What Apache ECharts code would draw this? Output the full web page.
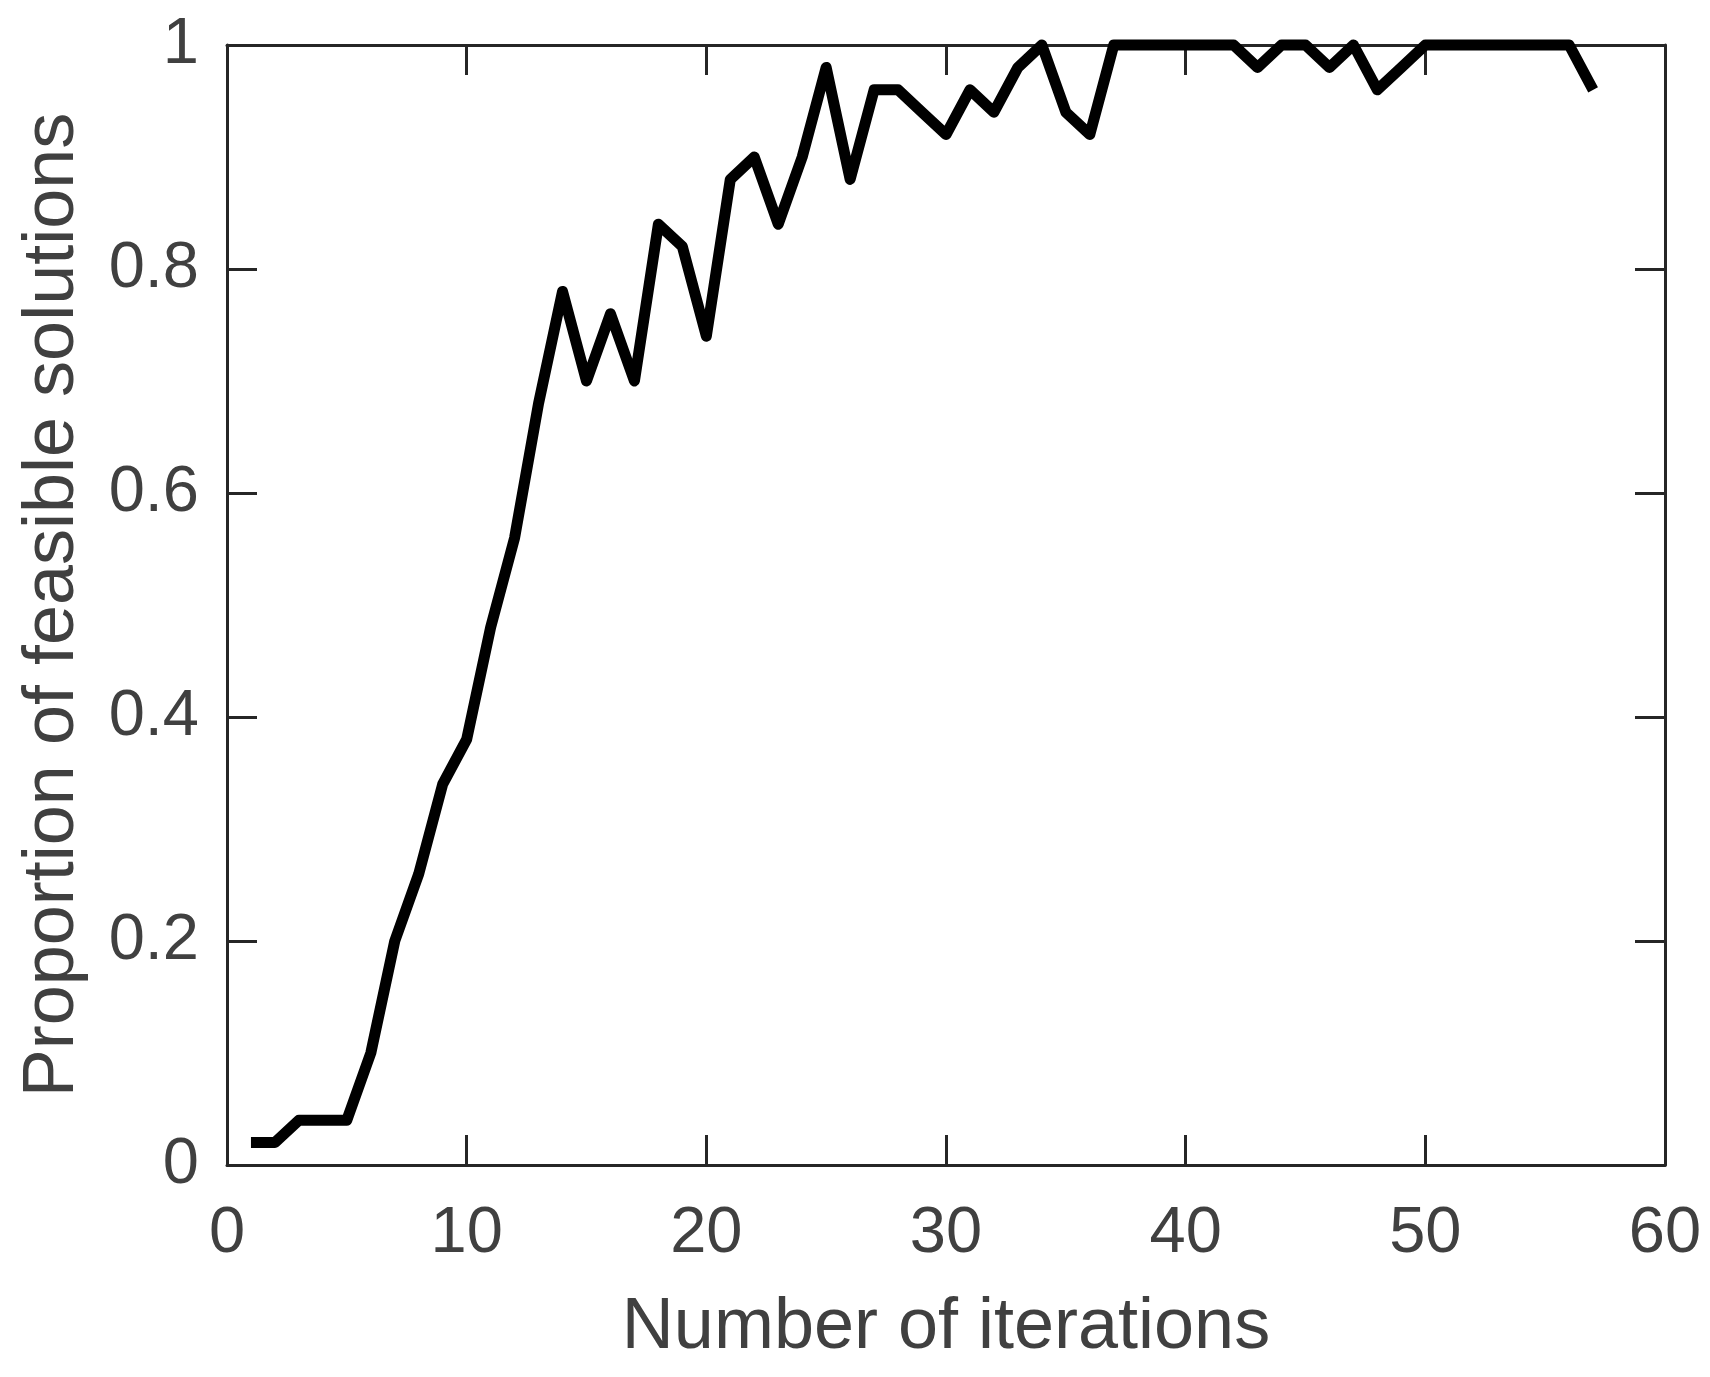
<!DOCTYPE html>
<html>
<head>
<meta charset="utf-8">
<script src="https://cdn.jsdelivr.net/npm/echarts@6/dist/echarts.min.js"></script>
<style>
  html, body { margin: 0; padding: 0; background: #fff; }
  #chart { width: 1710px; height: 1377px; }
</style>
</head>
<body>
<div id="chart"></div>
<script>
// iterations 1..57
var iterations = [
  1, 2, 3, 4, 5, 6, 7, 8, 9, 10,
  11, 12, 13, 14, 15, 16, 17, 18, 19, 20,
  21, 22, 23, 24, 25, 26, 27, 28, 29, 30,
  31, 32, 33, 34, 35, 36, 37, 38, 39, 40,
  41, 42, 43, 44, 45, 46, 47, 48, 49, 50,
  51, 52, 53, 54, 55, 56, 57
];
var proportion = [
  0.02, 0.02, 0.04, 0.04, 0.04, 0.10, 0.20, 0.26, 0.34, 0.38,
  0.48, 0.56, 0.68, 0.78, 0.70, 0.76, 0.70, 0.84, 0.82, 0.74,
  0.88, 0.90, 0.84, 0.90, 0.98, 0.88, 0.96, 0.96, 0.94, 0.92,
  0.96, 0.94, 0.98, 1.00, 0.94, 0.92, 1.00, 1.00, 1.00, 1.00,
  1.00, 1.00, 0.98, 1.00, 1.00, 0.98, 1.00, 0.96, 0.98, 1.00,
  1.00, 1.00, 1.00, 1.00, 1.00, 1.00, 0.96
];
var xTicks = { min: 0, max: 60, interval: 10 };
var yTicks = { min: 0, max: 1, interval: 0.2 };

(function() {
  var myChart = echarts.init(document.getElementById("chart"));

  var axisColor = "#262626";
  var textColor = "#404040";
  var font = "'Liberation Sans', Arial, sans-serif";

  // box axes: line not tied to zero, ticks pointing inward
  var axisLine = { show: true, onZero: false, lineStyle: { color: axisColor, width: 3 } };
  var tick = { show: true, inside: true, length: 30, lineStyle: { color: axisColor, width: 3 } };

  var pts = iterations.map(function(x, i) { return [x, proportion[i]]; });

  var option = {
    backgroundColor: "#fff",
    animation: false,
    grid: {
      left: 227,
      right: 45,
      top: 45,
      bottom: 212,
      containLabel: false
    },
    xAxis: [
      {
        type: "value",
        position: "bottom",
        min: xTicks.min,
        max: xTicks.max,
        interval: xTicks.interval,
        name: "Number of iterations",
        nameLocation: "middle",
        nameGap: 127,
        nameTextStyle: { color: textColor, fontSize: 72, fontFamily: font },
        axisLine: axisLine,
        axisTick: tick,
        axisLabel: { color: textColor, fontSize: 65, fontFamily: font, margin: 37 },
        splitLine: { show: false }
      },
      {
        type: "value",
        position: "top",
        min: xTicks.min,
        max: xTicks.max,
        interval: xTicks.interval,
        axisLine: axisLine,
        axisTick: tick,
        axisLabel: { show: false },
        splitLine: { show: false }
      }
    ],
    yAxis: [
      {
        type: "value",
        position: "left",
        min: yTicks.min,
        max: yTicks.max,
        interval: yTicks.interval,
        name: "Proportion of feasible solutions",
        nameLocation: "middle",
        nameGap: 138,
        nameTextStyle: { color: textColor, fontSize: 72, fontFamily: font },
        axisLine: axisLine,
        axisTick: tick,
        axisLabel: { color: textColor, fontSize: 65, fontFamily: font, margin: 28 },
        splitLine: { show: false }
      },
      {
        type: "value",
        position: "right",
        min: yTicks.min,
        max: yTicks.max,
        interval: yTicks.interval,
        axisLine: axisLine,
        axisTick: tick,
        axisLabel: { show: false },
        splitLine: { show: false }
      }
    ],
    series: [
      {
        type: "line",
        xAxisIndex: 0,
        yAxisIndex: 0,
        data: pts,
        showSymbol: false,
        symbol: "none",
        clip: false,
        lineStyle: { color: "#000", width: 11, join: "round", cap: "butt" }
      }
    ]
  };

  myChart.setOption(option);
})();
</script>
</body>
</html>
